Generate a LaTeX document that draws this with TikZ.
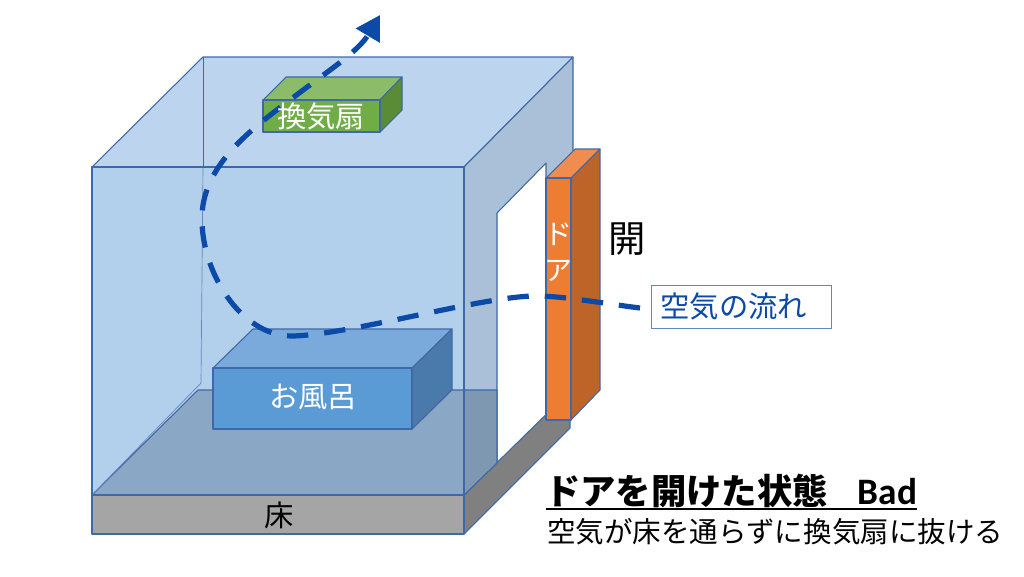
\documentclass[tikz,border=0pt]{standalone}
\usepackage{fontspec}
\usetikzlibrary{arrows.meta}
\setmainfont{Noto Sans CJK JP}
\newfontfamily\latinfont[BoldFont={Carlito Bold}]{Carlito}
\definecolor{edge}{HTML}{3F68A8}
\definecolor{flow}{HTML}{0B4AA6}
\definecolor{frontc}{HTML}{B2CFEC}
\definecolor{topc}{HTML}{BDD4EE}
\definecolor{wallc}{HTML}{A9C0D8}
\definecolor{floorc}{HTML}{8AA8C6}
\definecolor{floorr}{HTML}{7F98B2}
\definecolor{bathf}{HTML}{5B9BD5}
\definecolor{batht}{HTML}{7AAADC}
\definecolor{baths}{HTML}{497AAB}
\definecolor{fanf}{HTML}{70AD47}
\definecolor{fant}{HTML}{8CBC69}
\definecolor{fans}{HTML}{5A8C38}
\definecolor{doorf}{HTML}{ED7D31}
\definecolor{doort}{HTML}{F18C50}
\definecolor{doors}{HTML}{BE6428}
\definecolor{slabf}{HTML}{A5A5A5}
\definecolor{slabs}{HTML}{808080}
\tikzset{
  face/.style={draw=edge,line width=0.8pt,line join=round},
  lab/.style={inner sep=0pt,font=\fontsize{22}{26}\selectfont,text=#1},
  lab/.default=white,
}
\begin{document}
\begin{tikzpicture}[x=0.75pt,y=-0.75pt]
\useasboundingbox (0,0) rectangle (1024,576);
% floor slab
\fill[face,fill=slabs] (464,495) -- (570,391) -- (570,428) -- (464,534) -- cycle;
\fill[face,fill=slabf] (92,495) rectangle (464,534);
% room
\fill[face,fill=frontc] (92,167) rectangle (464,495);
\fill[face,fill=topc] (92,167) -- (203,57) -- (573,57) -- (464,167) -- cycle;
\fill[face,fill=wallc] (464,167) -- (573,57) -- (573,160) -- (546,190) -- (546,163) -- (497,213) -- (497,463) -- (464,495) -- cycle;
\fill[face,fill=floorc] (92,495) -- (198,390) -- (464,390) -- (464,495) -- cycle;
\fill[face,fill=floorr] (464,390) -- (497,390) -- (497,463) -- (464,495) -- cycle;
\draw[edge,line width=0.5pt] (203,57) -- (203,167);
\draw[edge!80,line width=0.5pt] (203,167) -- (201,383) -- (92,495);
\draw[face,fill=none] (92,167) rectangle (464,495);
% bath
\fill[face,fill=batht] (213,368) -- (253,329) -- (452,329) -- (412,368) -- cycle;
\fill[face,fill=baths] (412,368) -- (452,329) -- (452,390) -- (412,429) -- cycle;
\fill[face,fill=bathf] (213,368) rectangle (412,429);
% door
\fill[face,fill=doort] (546,178) -- (575,149) -- (600,149) -- (571,178) -- cycle;
\fill[face,fill=doors] (571,178) -- (600,149) -- (600,390) -- (571,420) -- cycle;
\fill[face,fill=doorf] (546,178) rectangle (571,420);
% fan
\fill[face,fill=fant] (263,100) -- (286,77) -- (402,77) -- (380,100) -- cycle;
\fill[face,fill=fans] (380,100) -- (402,77) -- (402,110) -- (380,132) -- cycle;
\fill[face,fill=fanf] (263,100) rectangle (380,132);
% label box
\node[draw=edge!80,line width=0.7pt,fill=white,minimum width=180pt*0.75,minimum height=43pt*0.75,inner sep=0pt,
  lab=flow] (flowlabel) at (741,306.5) {\hspace*{-11pt}空気の流れ};
% connector
\coordinate (flowstart) at (640,308);
\coordinate (flowend) at (380,15);
\draw[flow,line width=3.9pt,dash pattern=on 16pt off 12pt,
      -{Triangle[length=18pt,width=20pt]}]
  (flowstart) .. controls (600,303) and (570,297) .. (540,296)
  .. controls (490,294) and (350,335) .. (292,336)
  .. controls (240,336) and (200,270) .. (202,215)
  .. controls (204,165) and (250,130) .. (290,100)
  .. controls (325,73) and (358,52) .. (flowend);
% labels
\node[lab] (fan) at (321,116) {換気扇};
\node[lab] (bath) at (313,397) {お風呂};
\node[lab=black] (floor) at (279,515) {床};
\node[lab,align=center,font=\fontsize{21}{27}\selectfont] (door) at (558,252) {ド\\ア};
\node[lab=black,font=\fontsize{28}{32}\selectfont] (open) at (627,239) {開};
\node[anchor=west,inner sep=0pt,font=\fontsize{26.5}{30}\selectfont\bfseries] (title) at (545,491) {ドアを開けた状態\hspace{0.85em}{\latinfont\bfseries\fontsize{28}{30}\selectfont Bad}};
\coordinate (ulstart) at (546,509);
\coordinate (ulend) at (917,509);
\draw[black,line width=1.3pt] (ulstart) -- (ulend);
\node[anchor=west,inner sep=0pt,font=\fontsize{21.4}{24}\selectfont] (sub) at (547,532) {空気が床を通らずに換気扇に抜ける};
\end{tikzpicture}
\end{document}
